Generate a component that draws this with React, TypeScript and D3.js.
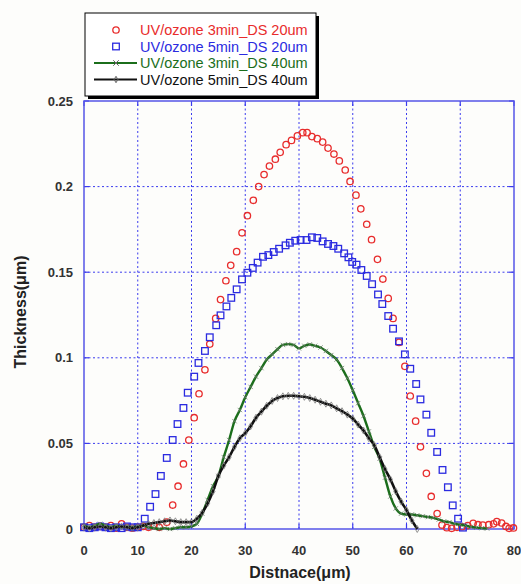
import React, { useEffect, useRef } from 'react';
import * as d3 from 'd3';

// UV/ozone 3min_DS 20um (red circles)
const redX = [0, 1, 2, 3, 4, 5, 6, 7, 8, 9, 10, 11, 12, 13, 14, 15.4, 16.5, 17.5, 18.5, 19.5, 20.5, 21.4, 22.5, 23.4, 24.5, 25.4, 26.4, 27.3, 28.4, 29.4, 30.4, 31.5, 32.5, 33.5, 34.5, 35.6, 36.5, 37.6, 38.6, 39.7, 40.7, 41.5, 42.4, 43.4, 44.4, 45.4, 46.5, 47.5, 48.6, 49.5, 50.6, 51.5, 52.6, 53.5, 54.6, 55.6, 56.6, 57.5, 58.6, 59.7, 60.7, 61.7, 62.6, 63.7, 64.6, 65.7, 66.6, 67.5, 68.4, 69.4, 70.3, 71.4, 72.4, 73.3, 74.2, 75.3, 76.2, 76.8, 77.7, 78.5, 79.1, 79.9];
const redY = [0.001, 0.002, 0.001, 0.0015, 0.001, 0.002, 0.0005, 0.003, 0.001, 0.0005, 0.001, 0.0015, 0.001, 0.002, 0.001, 0.004, 0.014, 0.025, 0.038, 0.052, 0.065, 0.079, 0.093, 0.108, 0.123, 0.134, 0.145, 0.154, 0.162, 0.173, 0.183, 0.192, 0.2, 0.207, 0.212, 0.216, 0.22, 0.2245, 0.227, 0.2296, 0.2315, 0.2315, 0.2292, 0.228, 0.226, 0.2225, 0.219, 0.215, 0.2097, 0.203, 0.195, 0.187, 0.178, 0.169, 0.1575, 0.146, 0.1347, 0.123, 0.109, 0.095, 0.0777, 0.063, 0.048, 0.0325, 0.019, 0.009, 0.0023, 0.0008, 0.0004, 0.001, 0.0013, 0.002, 0.0033, 0.0025, 0.0023, 0.0025, 0.003, 0.0043, 0.0035, 0.0015, 0.0004, 0.0006];

// UV/ozone 5min_DS 20um (blue squares)
const blueX = [0, 1, 2, 3, 4, 5, 6, 7, 8, 9, 10, 11.3, 12.3, 13.3, 14.3, 15.4, 16.5, 17.4, 18.5, 19.3, 20.5, 21.3, 22.5, 23.4, 24.6, 25.4, 26.5, 27.4, 28.4, 29.4, 30.4, 31.4, 32.3, 33.3, 34.3, 35.3, 36.3, 37.5, 38.3, 39.3, 40.3, 41.4, 42.4, 43.4, 44.4, 45.4, 46.4, 47.3, 48.4, 49.2, 49.9, 50.7, 51.6, 52.6, 53.6, 54.7, 55.5, 56.6, 57.5, 58.6, 59.7, 60.7, 61.8, 62.6, 63.7, 64.6, 65.7, 66.7, 67.7, 68.6, 69.6, 70.5];
const blueY = [0.001, 0.0005, 0.001, 0.0015, 0.001, 0.0005, 0.001, 0.0005, 0.0015, 0.001, 0.001, 0.006, 0.013, 0.0204, 0.031, 0.0415, 0.052, 0.0613, 0.0707, 0.0796, 0.089, 0.097, 0.104, 0.112, 0.119, 0.1248, 0.13, 0.135, 0.14, 0.1458, 0.1497, 0.1525, 0.1556, 0.159, 0.16, 0.1618, 0.1637, 0.1657, 0.1672, 0.1684, 0.1688, 0.1688, 0.1704, 0.17, 0.168, 0.1665, 0.1653, 0.1637, 0.161, 0.1587, 0.156, 0.1544, 0.1513, 0.1478, 0.143, 0.137, 0.1314, 0.1244, 0.117, 0.1096, 0.102, 0.0936, 0.0847, 0.0757, 0.0668, 0.0562, 0.045, 0.0345, 0.0244, 0.0138, 0.006, 0.0008];

// UV/ozone 3min_DS 40um (green line, x markers)
const greenX = [0, 1, 2, 3, 4, 5, 6, 7, 8, 9, 10, 11, 12, 13, 14, 15, 16, 17, 18, 19, 20, 21, 22, 23, 24, 25, 26, 27, 28, 29, 30, 31, 32, 33, 34, 35, 36, 37, 38, 39, 40, 41, 42, 43, 44, 45, 46, 47, 48, 49, 50, 51, 52, 53, 54, 55, 56, 57, 58, 59, 60, 61, 62, 63, 64, 65, 66, 67, 68, 69, 70, 71, 72, 73, 74, 75];
const greenY = [0.002, 0.001, 0.002, 0.003, 0.002, 0.001, 0.002, 0.001, 0.0015, 0.001, 0.0015, 0.002, 0.001, 0.0005, 0, 0.0005, 0, 0.0005, 0.001, 0.001, 0.0015, 0.003, 0.009, 0.017, 0.025, 0.031, 0.042, 0.052, 0.063, 0.0695, 0.077, 0.083, 0.089, 0.094, 0.099, 0.102, 0.105, 0.1075, 0.108, 0.1075, 0.1055, 0.107, 0.1078, 0.107, 0.106, 0.104, 0.1016, 0.099, 0.094, 0.088, 0.081, 0.0735, 0.066, 0.057, 0.048, 0.041, 0.03, 0.019, 0.012, 0.009, 0.0085, 0.0085, 0.008, 0.0075, 0.007, 0.0065, 0.0055, 0.0045, 0.004, 0.003, 0.0025, 0.002, 0.0012, 0.0008, 0.0005, 0.0003];

// UV/ozone 5min_DS 40um (black line, diamond markers)
const blackX = [0, 1, 2, 3, 4, 5, 6, 7, 8, 9, 10, 11, 12, 13, 14, 15, 16, 17, 18, 19, 20, 21, 22, 23, 24, 25, 26, 27, 28, 29, 30, 31, 32, 33, 34, 35, 36, 37, 38, 39, 40, 41, 42, 43, 44, 45, 46, 47, 48, 49, 50, 51, 52, 53, 54, 55, 56, 57, 58, 59, 60, 61, 62];
const blackY = [0.001, 0.0005, 0.001, 0.0015, 0.001, 0.0005, 0.001, 0.0015, 0.001, 0.0005, 0.001, 0.002, 0.003, 0.0035, 0.004, 0.0045, 0.005, 0.0045, 0.004, 0.004, 0.004, 0.006, 0.0095, 0.015, 0.022, 0.031, 0.037, 0.042, 0.048, 0.053, 0.056, 0.06, 0.065, 0.0685, 0.072, 0.0748, 0.0765, 0.0775, 0.0778, 0.0778, 0.0775, 0.0772, 0.0765, 0.0755, 0.0743, 0.0732, 0.0722, 0.0705, 0.0688, 0.0668, 0.0645, 0.061, 0.0575, 0.053, 0.049, 0.042, 0.035, 0.029, 0.022, 0.016, 0.011, 0.005, 0];

const xTicks = [0, 10, 20, 30, 40, 50, 60, 70, 80];
const yTicks = [0, 0.05, 0.1, 0.15, 0.2, 0.25];
const legendLabels = ['UV/ozone 3min_DS 20um', 'UV/ozone 5min_DS 20um', 'UV/ozone 3min_DS 40um', 'UV/ozone 5min_DS 40um'];

export default function App() {
  const chartRef = useRef<HTMLDivElement>(null);

  useEffect(() => {
    d3.select(chartRef.current).select('svg').remove();

    const W = 521;
    const H = 584;
    const red = '#e82c2c';
    const blue = '#2b2be0';
    const green = '#1b6e1b';
    const gridBlue = '#3a3aee';
    const font = 'Arial, "Liberation Sans", sans-serif';

    const svg = d3
      .select(chartRef.current)
      .append('svg')
      .attr('width', W)
      .attr('height', H)
      .style('position', 'absolute')
      .style('left', 0)
      .style('top', 0)
      .style('background', '#fdfdfb');

    const x = d3.scaleLinear().domain([0, 80]).range([84, 514]);
    const y = d3.scaleLinear().domain([0, 0.25]).range([529, 101]);

    // grid
    const grid = svg.append('g');
    grid
      .selectAll('line.gx')
      .data(xTicks.slice(1, -1))
      .join('line')
      .attr('x1', d => x(d))
      .attr('x2', d => x(d))
      .attr('y1', y(0))
      .attr('y2', y(0.25))
      .attr('stroke', gridBlue)
      .attr('stroke-width', 1)
      .attr('stroke-dasharray', '2,2.5');
    grid
      .selectAll('line.gy')
      .data(yTicks.slice(1, -1))
      .join('line')
      .attr('x1', x(0))
      .attr('x2', x(80))
      .attr('y1', d => y(d))
      .attr('y2', d => y(d))
      .attr('stroke', gridBlue)
      .attr('stroke-width', 1)
      .attr('stroke-dasharray', '2,2.5');

    // inner ticks
    const ticks = svg.append('g').attr('stroke', gridBlue).attr('stroke-width', 1.2);
    xTicks.forEach(t => {
      ticks.append('line').attr('x1', x(t)).attr('x2', x(t)).attr('y1', y(0)).attr('y2', y(0) - 5);
      ticks.append('line').attr('x1', x(t)).attr('x2', x(t)).attr('y1', y(0.25)).attr('y2', y(0.25) + 5);
    });
    yTicks.forEach(t => {
      ticks.append('line').attr('x1', x(0)).attr('x2', x(0) + 5).attr('y1', y(t)).attr('y2', y(t));
      ticks.append('line').attr('x1', x(80)).attr('x2', x(80) - 5).attr('y1', y(t)).attr('y2', y(t));
    });

    // frame
    svg
      .append('rect')
      .attr('x', x(0))
      .attr('y', y(0.25))
      .attr('width', x(80) - x(0))
      .attr('height', y(0) - y(0.25))
      .attr('fill', 'none')
      .attr('stroke', '#5555e8')
      .attr('stroke-width', 1.5);

    // tick labels
    svg
      .append('g')
      .selectAll('text')
      .data(xTicks)
      .join('text')
      .attr('x', d => x(d))
      .attr('y', 555)
      .attr('text-anchor', 'middle')
      .attr('font-family', font)
      .attr('font-size', 13)
      .attr('font-weight', 'bold')
      .attr('fill', '#333')
      .text(d => d);
    svg
      .append('g')
      .selectAll('text')
      .data(yTicks)
      .join('text')
      .attr('x', 73)
      .attr('y', d => y(d))
      .attr('dy', '0.35em')
      .attr('text-anchor', 'end')
      .attr('font-family', font)
      .attr('font-size', 13)
      .attr('font-weight', 'bold')
      .attr('fill', '#333')
      .text(d => String(d));

    // axis titles
    svg
      .append('text')
      .attr('x', 300)
      .attr('y', 578)
      .attr('text-anchor', 'middle')
      .attr('font-family', font)
      .attr('font-size', 16)
      .attr('font-weight', 'bold')
      .attr('fill', '#222')
      .text('Distnace(\u03bcm)');
    svg
      .append('text')
      .attr('transform', 'translate(26,312) rotate(-90)')
      .attr('text-anchor', 'middle')
      .attr('font-family', font)
      .attr('font-size', 16)
      .attr('font-weight', 'bold')
      .attr('fill', '#222')
      .text('Thickness(\u03bcm)');

    const plot = svg.append('g');

    // red circles
    plot
      .append('g')
      .selectAll('circle')
      .data(redX.map((d, i) => [d, redY[i]]))
      .join('circle')
      .attr('cx', d => x(d[0]))
      .attr('cy', d => y(d[1]))
      .attr('r', 3.2)
      .attr('fill', 'none')
      .attr('stroke', red)
      .attr('stroke-width', 1.3);

    // blue squares
    plot
      .append('g')
      .selectAll('rect')
      .data(blueX.map((d, i) => [d, blueY[i]]))
      .join('rect')
      .attr('x', d => x(d[0]) - 3.3)
      .attr('y', d => y(d[1]) - 3.3)
      .attr('width', 6.6)
      .attr('height', 6.6)
      .attr('fill', 'none')
      .attr('stroke', blue)
      .attr('stroke-width', 1.3);

    const line = d3
      .line<number[]>()
      .x(d => x(d[0]))
      .y(d => y(d[1]))
      .curve(d3.curveMonotoneX);

    // green line with x markers
    const greenData = greenX.map((d, i) => [d, greenY[i]]);
    plot
      .append('path')
      .datum(greenData)
      .attr('d', line)
      .attr('fill', 'none')
      .attr('stroke', green)
      .attr('stroke-width', 2.4);
    plot
      .append('g')
      .selectAll('path')
      .data(greenData)
      .join('path')
      .attr('transform', d => `translate(${x(d[0])},${y(d[1])})`)
      .attr('d', d3.symbol(d3.symbolTimes, 14)())
      .attr('fill', 'none')
      .attr('stroke', '#6a7a6a')
      .attr('stroke-width', 0.8);

    // black line with diamond markers
    const blackData = blackX.map((d, i) => [d, blackY[i]]);
    plot
      .append('path')
      .datum(blackData)
      .attr('d', line)
      .attr('fill', 'none')
      .attr('stroke', '#111')
      .attr('stroke-width', 2.6);
    plot
      .append('g')
      .selectAll('path')
      .data(blackData)
      .join('path')
      .attr('transform', d => `translate(${x(d[0])},${y(d[1])})`)
      .attr('d', d3.symbol(d3.symbolDiamond, 14)())
      .attr('fill', 'none')
      .attr('stroke', '#777')
      .attr('stroke-width', 0.8);

    // legend
    const lg = svg.append('g');
    lg.append('rect').attr('x', 88).attr('y', 16).attr('width', 231).attr('height', 83).attr('fill', '#000');
    lg.append('rect')
      .attr('x', 85)
      .attr('y', 13)
      .attr('width', 231)
      .attr('height', 83)
      .attr('fill', '#fff')
      .attr('stroke', '#000')
      .attr('stroke-width', 1);
    const colors = [red, blue, green, '#111'];
    const rowY = [30, 46.5, 63, 79.5];
    legendLabels.forEach((label, i) => {
      const cy = rowY[i];
      if (i === 0) {
        lg.append('circle').attr('cx', 116).attr('cy', cy).attr('r', 3.2).attr('fill', 'none').attr('stroke', red).attr('stroke-width', 1.3);
      } else if (i === 1) {
        lg.append('rect').attr('x', 112.7).attr('y', cy - 3.3).attr('width', 6.6).attr('height', 6.6).attr('fill', 'none').attr('stroke', blue).attr('stroke-width', 1.3);
      } else {
        lg.append('line').attr('x1', 94).attr('x2', 137).attr('y1', cy).attr('y2', cy).attr('stroke', colors[i]).attr('stroke-width', 2.2);
        lg.append('path')
          .attr('transform', `translate(116,${cy})`)
          .attr('d', d3.symbol(i === 2 ? d3.symbolTimes : d3.symbolDiamond, i === 2 ? 22 : 12)())
          .attr('fill', 'none')
          .attr('stroke', '#666')
          .attr('stroke-width', 1);
      }
      lg.append('text')
        .attr('x', 140)
        .attr('y', cy)
        .attr('dy', '0.35em')
        .attr('font-family', font)
        .attr('font-size', 14.5)
        .attr('fill', colors[i])
        .text(label);
    });
  }, []);

  return (
    <div>
      <div className='chart' ref={chartRef}></div>
    </div>
  );
}
